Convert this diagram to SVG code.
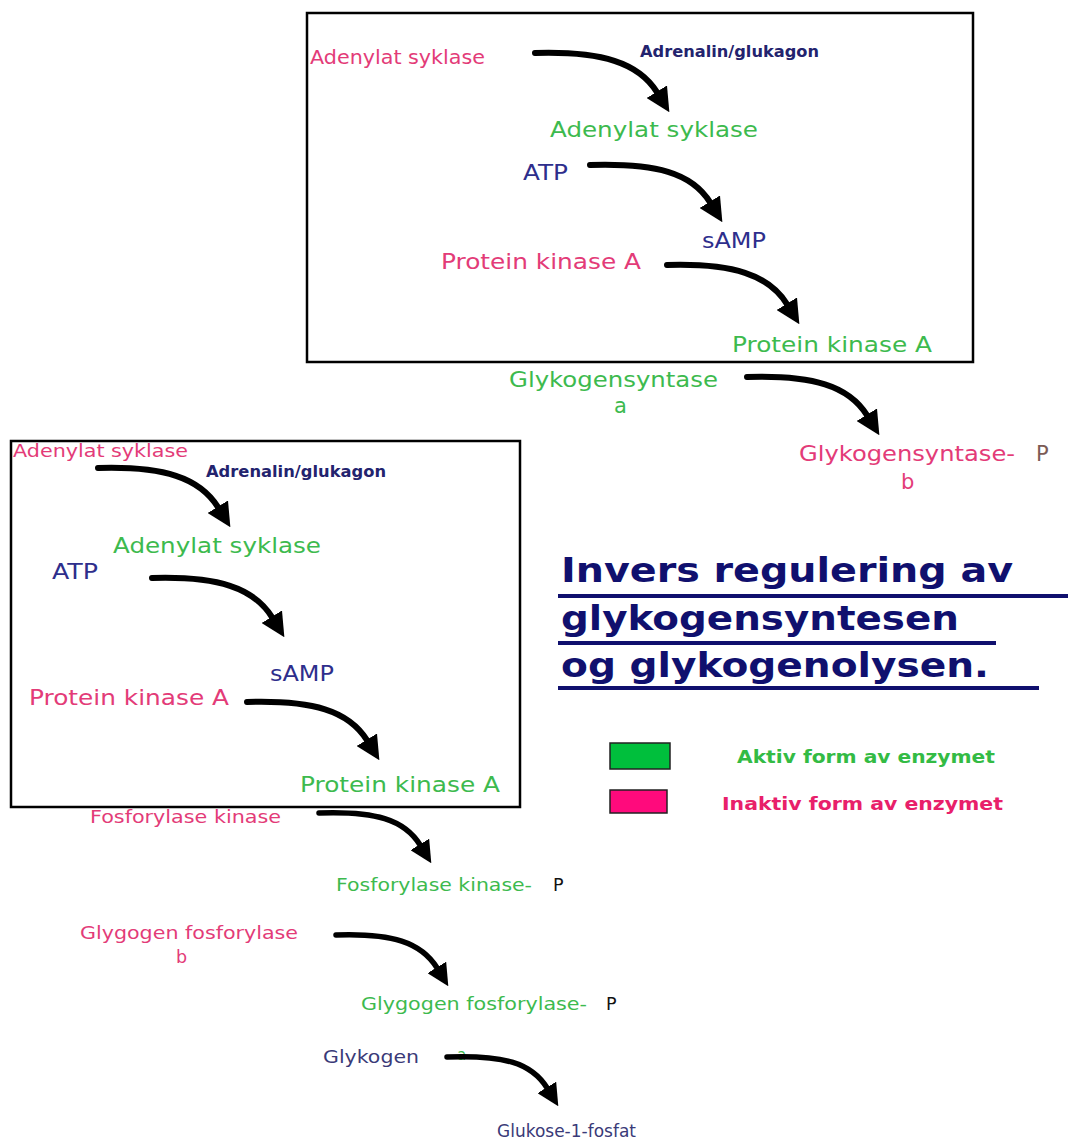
<svg xmlns="http://www.w3.org/2000/svg" width="1068" height="1146" viewBox="0 0 1068 1146">
<defs>
<style>
text{font-family:"DejaVu Sans",Verdana,"Liberation Sans",sans-serif;}
.pk{fill:#e33b78;}
.gr{fill:#3dba4e;}
.nv{fill:#2e2e8c;}
.nvd{fill:#3a3a78;}
.hb{fill:#23236e;font-weight:bold;}
.t{fill:#10106e;font-weight:bold;font-size:34px;}
.ul{stroke:#10106e;stroke-width:4;}
.box{fill:none;stroke:#000;stroke-width:2.5;}
.arr{fill:none;stroke:#000;stroke-width:6;stroke-linecap:round;}
.arrS{fill:none;stroke:#000;stroke-width:5.5;stroke-linecap:round;}
</style>
<marker id="ah" viewBox="0 0 24 24" refX="1" refY="12" markerWidth="24" markerHeight="24" markerUnits="userSpaceOnUse" orient="auto">
<path d="M0,0 L24,12 L0,24 z" fill="#000"/>
</marker>
<marker id="ahs" viewBox="0 0 22 22" refX="1" refY="11" markerWidth="22" markerHeight="22" markerUnits="userSpaceOnUse" orient="auto">
<path d="M0,0 L22,11 L0,22 z" fill="#000"/>
</marker>
</defs>
<rect width="1068" height="1146" fill="#fff"/>

<g id="box-top"><rect class="box" x="307" y="13" width="666" height="349"/></g>
<g id="box-left"><rect class="box" x="11" y="441" width="509" height="366"/></g>

<g id="n-top-ac-inactive"><text class="pk" x="310" y="64" font-size="19" textLength="175" lengthAdjust="spacingAndGlyphs">Adenylat syklase</text></g>
<g id="n-top-hormone"><text class="hb" x="640" y="57" font-size="15" textLength="179" lengthAdjust="spacingAndGlyphs">Adrenalin/glukagon</text></g>
<g id="n-top-ac-active"><text class="gr" x="550" y="137" font-size="21" textLength="208" lengthAdjust="spacingAndGlyphs">Adenylat syklase</text></g>
<g id="n-top-atp"><text class="nv" x="523" y="180" font-size="21" textLength="45" lengthAdjust="spacingAndGlyphs">ATP</text></g>
<g id="n-top-samp"><text class="nv" x="702" y="248" font-size="21" textLength="64" lengthAdjust="spacingAndGlyphs">sAMP</text></g>
<g id="n-top-pka-inactive"><text class="pk" x="441" y="269" font-size="21" textLength="200" lengthAdjust="spacingAndGlyphs">Protein kinase A</text></g>
<g id="n-top-pka-active"><text class="gr" x="732" y="352" font-size="21" textLength="200" lengthAdjust="spacingAndGlyphs">Protein kinase A</text></g>

<g id="n-gs-a">
<text class="gr" x="509" y="387" font-size="21" textLength="209" lengthAdjust="spacingAndGlyphs">Glykogensyntase</text>
<text class="gr" x="614" y="413" font-size="21">a</text>
</g>
<g id="n-gs-b">
<text class="pk" x="799" y="461" font-size="21" textLength="216" lengthAdjust="spacingAndGlyphs">Glykogensyntase-</text>
<text x="1036" y="461" font-size="21" fill="#7b5b55">P</text>
<text class="pk" x="901" y="489" font-size="21">b</text>
</g>

<g id="n-left-ac-inactive"><text class="pk" x="13" y="457" font-size="18" textLength="175" lengthAdjust="spacingAndGlyphs">Adenylat syklase</text></g>
<g id="n-left-hormone"><text class="hb" x="206" y="477" font-size="15" textLength="180" lengthAdjust="spacingAndGlyphs">Adrenalin/glukagon</text></g>
<g id="n-left-ac-active"><text class="gr" x="113" y="553" font-size="21" textLength="208" lengthAdjust="spacingAndGlyphs">Adenylat syklase</text></g>
<g id="n-left-atp"><text class="nv" x="52" y="579" font-size="21" textLength="46" lengthAdjust="spacingAndGlyphs">ATP</text></g>
<g id="n-left-samp"><text class="nv" x="270" y="681" font-size="21" textLength="64" lengthAdjust="spacingAndGlyphs">sAMP</text></g>
<g id="n-left-pka-inactive"><text class="pk" x="29" y="705" font-size="21" textLength="200" lengthAdjust="spacingAndGlyphs">Protein kinase A</text></g>
<g id="n-left-pka-active"><text class="gr" x="300" y="792" font-size="21" textLength="200" lengthAdjust="spacingAndGlyphs">Protein kinase A</text></g>

<g id="n-fk-inactive"><text class="pk" x="90" y="823" font-size="17.5" textLength="191" lengthAdjust="spacingAndGlyphs">Fosforylase kinase</text></g>
<g id="n-fk-active">
<text class="gr" x="336" y="891" font-size="17.5" textLength="196" lengthAdjust="spacingAndGlyphs">Fosforylase kinase-</text>
<text x="553" y="891" font-size="17.5" fill="#111">P</text>
</g>
<g id="n-gf-b">
<text class="pk" x="80" y="939" font-size="17.5" textLength="218" lengthAdjust="spacingAndGlyphs">Glygogen fosforylase</text>
<text class="pk" x="176" y="963" font-size="17.5">b</text>
</g>
<g id="n-gf-a">
<text class="gr" x="361" y="1010" font-size="17.5" textLength="226" lengthAdjust="spacingAndGlyphs">Glygogen fosforylase-</text>
<text x="606" y="1010" font-size="17.5" fill="#111">P</text>
</g>
<g id="n-glykogen">
<text class="nvd" x="323" y="1063" font-size="17.5" textLength="96" lengthAdjust="spacingAndGlyphs">Glykogen</text>
<text class="gr" x="457" y="1060" font-size="15">a</text>
</g>
<g id="n-g1p"><text class="nvd" x="497" y="1137" font-size="17.5" textLength="139" lengthAdjust="spacingAndGlyphs">Glukose-1-fosfat</text></g>

<g id="title">
<text class="t" x="561" y="582" textLength="452" lengthAdjust="spacingAndGlyphs">Invers regulering av</text>
<line class="ul" x1="558" y1="596" x2="1068" y2="596"/>
<text class="t" x="561" y="630" textLength="398" lengthAdjust="spacingAndGlyphs">glykogensyntesen</text>
<line class="ul" x1="558" y1="643" x2="996" y2="643"/>
<text class="t" x="561" y="677" textLength="428" lengthAdjust="spacingAndGlyphs">og glykogenolysen.</text>
<line class="ul" x1="558" y1="688" x2="1039" y2="688"/>
</g>

<g id="legend-active">
<rect x="610" y="743" width="60" height="26" fill="#00bf3c" stroke="#222" stroke-width="1.5"/>
<text x="737" y="763" font-size="17" font-weight="bold" fill="#33bb44" textLength="258" lengthAdjust="spacingAndGlyphs">Aktiv form av enzymet</text>
</g>
<g id="legend-inactive">
<rect x="610" y="790" width="57" height="23" fill="#ff0a7c" stroke="#222" stroke-width="1.5"/>
<text x="722" y="810" font-size="17" font-weight="bold" fill="#e8206a" textLength="281" lengthAdjust="spacingAndGlyphs">Inaktiv form av enzymet</text>
</g>

<g id="connectors">
<path class="arr" marker-end="url(#ah)" d="M535,53 C602,51 638.8,62.6 657.3,92.6"/>
<path class="arr" marker-end="url(#ah)" d="M590,165 C656,163 691.8,172.6 710.3,202.6"/>
<path class="arr" marker-end="url(#ah)" d="M667,265 C733,263 768.8,274.6 787.3,304.6"/>
<path class="arr" marker-end="url(#ah)" d="M747,377 C813,375 848.8,385.6 867.3,415.6"/>
<path class="arr" marker-end="url(#ah)" d="M98,468 C164,466 199.8,477.6 218.3,507.6"/>
<path class="arr" marker-end="url(#ah)" d="M152,578 C218,576 253.8,587.6 272.3,617.6"/>
<path class="arr" marker-end="url(#ah)" d="M247,702 C313,700 348.8,710.6 367.3,740.6"/>
<path class="arrS" marker-end="url(#ahs)" d="M319,813 C375,811 404.3,819.3 420.3,845.3"/>
<path class="arrS" marker-end="url(#ahs)" d="M336,935 C392,933 421.3,942.3 437.3,968.3"/>
<path class="arrS" marker-end="url(#ahs)" d="M447,1057 C503,1055 531.3,1062.3 547.3,1088.3"/>
</g>
</svg>
